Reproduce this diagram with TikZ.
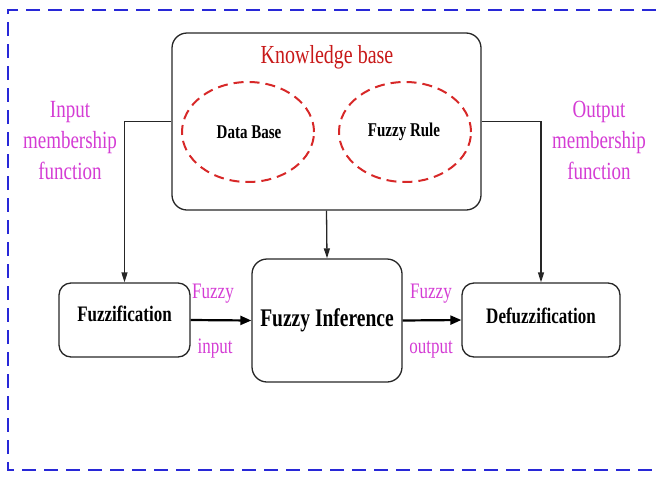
\documentclass[tikz,border=0pt]{standalone}
\usepackage{graphicx}
\usepackage{fontspec}
\setmainfont{Liberation Serif}
\usetikzlibrary{shapes.geometric,arrows.meta}
\definecolor{bordblue}{RGB}{40,40,215}
\definecolor{kbred}{RGB}{200,25,25}
\definecolor{elred}{RGB}{215,40,40}
\definecolor{lblmag}{RGB}{212,60,212}
\newcommand{\vsc}[1]{\scalebox{1}[1.3]{#1}}
\begin{document}
\begin{tikzpicture}[x=1pt,y=-1pt,
  box/.style={draw=black!85,line width=1.3pt,rounded corners=14pt,inner sep=0pt,minimum width=#1},
  ell/.style={draw=elred,dash pattern=on 10pt off 6pt,line width=2pt,ellipse,inner sep=0pt,minimum width=132pt,minimum height=100pt},
  boldtxt/.style={font=\fontsize{#1}{#1}\selectfont\bfseries,inner sep=0pt},
  maglbl/.style={font=\fontsize{17}{17}\selectfont,text=lblmag,inner sep=0pt},
  conn/.style={draw=black!85,line width=1.3pt,-{Triangle[length=10pt,width=6pt]}},
  flow/.style={draw=black,line width=2.2pt,-{Triangle[length=11pt,width=9pt]}}
]
\useasboundingbox (0,0) rectangle (656,477);
% border
\draw[bordblue,line width=2.5pt,dash pattern=on 14pt off 8pt] (656,10) -- (8,10) -- (8,470) -- (656,470);

% knowledge base
\node[box=309pt,minimum height=177pt,rounded corners=15pt] (kb) at (326.5,121.5) {};
\node[font=\fontsize{20}{20}\selectfont,text=kbred,inner sep=0pt] (kbt) at (327,57) {\vsc{Knowledge base}};
\node[ell] (db) at (248,132) {};
\node[boldtxt=15] (dbt) at (249,132) {\vsc{Data Base}};
\node[ell] (fr) at (405,132) {};
\node[boldtxt=15] (frt) at (404,132) {\vsc{Fuzzy Rule}};

% main blocks
\node[box=131pt,minimum height=74pt,rounded corners=12pt] (fz) at (124.5,320) {};
\node[boldtxt=17] (fzt) at (124.5,314) {\vsc{Fuzzification}};
\node[box=150pt,minimum height=123pt,rounded corners=15pt] (fi) at (327,320.5) {};
\node[boldtxt=19.5] (fit) at (327,320) {\vsc{Fuzzy Inference}};
\node[box=158pt,minimum height=74pt,rounded corners=12pt] (df) at (541,320) {};
\node[boldtxt=17] (dft) at (541,316) {\vsc{Defuzzification}};

% side labels
\node[font=\fontsize{19}{24}\selectfont,text=lblmag,inner sep=0pt] (inl) at (70,142)
  {\vsc{\begin{tabular}{@{}c@{}}Input\\membership\\function\end{tabular}}};
\node[font=\fontsize{19}{24}\selectfont,text=lblmag,inner sep=0pt] (outl) at (599,142)
  {\vsc{\begin{tabular}{@{}c@{}}Output\\membership\\function\end{tabular}}};

% flow labels
\node[maglbl] (fin1) at (213,294) {\vsc{Fuzzy}};
\node[maglbl,anchor=base] (fin2) at (215,353) {\vsc{input}};
\node[maglbl] (fout1) at (431,294) {\vsc{Fuzzy}};
\node[maglbl,anchor=base] (fout2) at (431,353) {\vsc{output}};

% connectors
\draw[conn] (kb.west) -| (fz.north);
\draw[conn] (kb.east) -| (df.north);
\draw[conn] (kb.south) -- (fi.north);
\draw[flow] (fz.east) -- (fi.west);
\draw[flow] (fi.east) -- (df.west);
\end{tikzpicture}
\end{document}
